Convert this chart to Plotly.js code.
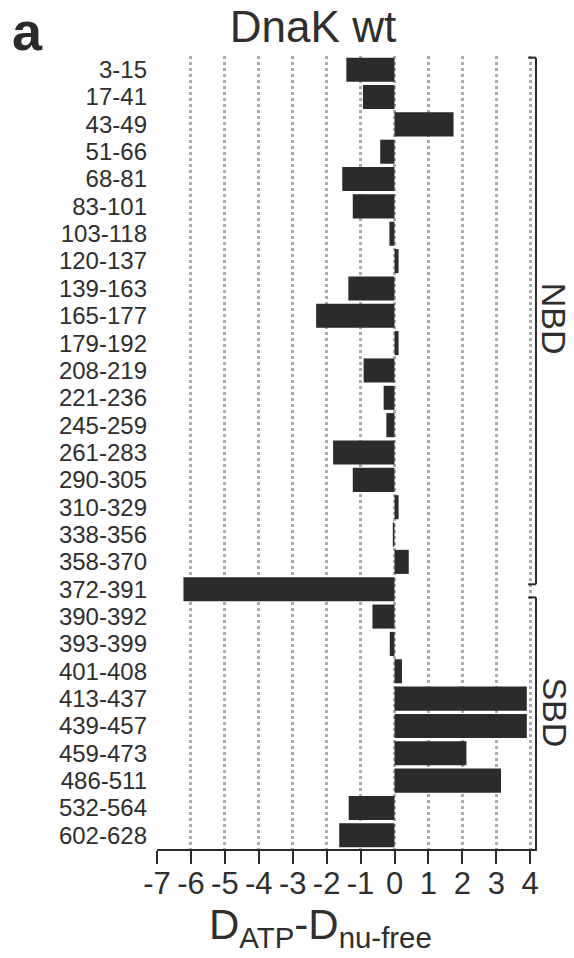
<!DOCTYPE html>
<html>
<head>
<meta charset="utf-8">
<script src="https://cdn.plot.ly/plotly-3.0.1.min.js"></script>
<style>html,body{margin:0;padding:0;background:#fff;}#chart{width:574px;height:958px;}</style>
</head>
<body>
<div id="chart"></div>
<script>
// Peptide segments (top to bottom)
var segments = ["3-15","17-41","43-49","51-66","68-81","83-101","103-118","120-137","139-163","165-177","179-192","208-219","221-236","245-259","261-283","290-305","310-329","338-356","358-370","372-391","390-392","393-399","401-408","413-437","439-457","459-473","486-511","532-564","602-628"];
// D_ATP - D_nu-free values
var deltaD = [-1.42,-0.93,1.74,-0.42,-1.54,-1.23,-0.15,0.12,-1.36,-2.31,0.12,-0.91,-0.32,-0.24,-1.81,-1.23,0.12,-0.05,0.42,-6.22,-0.65,-0.14,0.22,3.9,3.9,2.12,3.14,-1.35,-1.63];
// x-axis ticks
var xTickVals = [-7,-6,-5,-4,-3,-2,-1,0,1,2,3,4];
var xTickText = ["-7","-6","-5","-4","-3","-2","-1","0","1","2","3","4"];
// domain brackets
var domainNames = ["NBD","SBD"];
var domainStart = [-0.44, 19.3];
var domainEnd = [18.82, 28.5];
var domainLabelPos = [9.1, 23.5];

var FONT = "Liberation Sans, Arial, Helvetica, sans-serif";
var TXT = "#2e2e2e";

var trace = {
  type: "bar",
  orientation: "h",
  x: deltaD,
  y: segments,
  marker: {color: "#2b2b2b", line: {width: 0}},
  hoverinfo: "x+y"
};

var shapes = [];
var annotations = [];
var bx = 4.17, tickx = 3.94;
for (var i = 0; i < domainNames.length; i++) {
  var lineStyle = {color: "#2b2b2b", width: 2};
  shapes.push({type: "line", xref: "x", yref: "y", x0: tickx, x1: bx, y0: domainStart[i], y1: domainStart[i], line: lineStyle});
  shapes.push({type: "line", xref: "x", yref: "y", x0: bx, x1: bx, y0: domainStart[i], y1: domainEnd[i], line: lineStyle});
  if (i === 0) shapes.push({type: "line", xref: "x", yref: "y", x0: tickx, x1: bx, y0: domainEnd[i], y1: domainEnd[i], line: lineStyle});
  annotations.push({
    text: domainNames[i], xref: "paper", yref: "y", x: 1.047, y: domainLabelPos[i],
    xanchor: "center", yanchor: "middle", textangle: 90, showarrow: false,
    font: {family: FONT, size: 34, color: TXT}
  });
}
annotations.push({
  text: "a", xref: "paper", yref: "paper", x: -0.386, y: 1.032, xanchor: "left", yanchor: "middle",
  showarrow: false, font: {family: FONT, size: 54, color: "#2a2a2a", weight: "bold"}
});
annotations.push({
  text: "D<sub>ATP</sub>-D<sub>nu-free</sub>", xref: "paper", yref: "paper", x: 0.429, y: -0.099,
  xanchor: "center", yanchor: "middle", showarrow: false,
  font: {family: FONT, size: 42, color: TXT}
});

var layout = {
  width: 574, height: 958,
  margin: {l: 157, r: 37, t: 56, b: 109},
  paper_bgcolor: "#fff", plot_bgcolor: "#fff",
  showlegend: false,
  bargap: 0.12,
  font: {family: FONT, color: TXT},
  title: {
    text: "DnaK wt", font: {family: FONT, size: 44, color: TXT},
    xref: "container", x: 313/574, xanchor: "center",
    yref: "container", y: 0.972, yanchor: "middle"
  },
  xaxis: {
    range: [-7, 4.2], fixedrange: true,
    tickmode: "array", tickvals: xTickVals, ticktext: xTickText,
    ticks: "outside", ticklen: 13, tickwidth: 2, tickcolor: "#2b2b2b",
    showline: true, linecolor: "#2b2b2b", linewidth: 2,
    showgrid: true, gridcolor: "#ababab", gridwidth: 3, griddash: "dot",
    zeroline: false,
    tickfont: {family: FONT, size: 31, color: TXT},
    ticklabelstandoff: -7
  },
  yaxis: {
    type: "category", range: [28.5, -0.5], fixedrange: true,
    tickmode: "array", tickvals: segments, ticktext: segments,
    showgrid: false, zeroline: false, showline: false, ticks: "",
    tickfont: {family: FONT, size: 24, color: TXT},
    ticklabelstandoff: 9
  },
  shapes: shapes,
  annotations: annotations
};

Plotly.newPlot("chart", [trace], layout, {displayModeBar: false, staticPlot: true});
</script>
</body>
</html>
